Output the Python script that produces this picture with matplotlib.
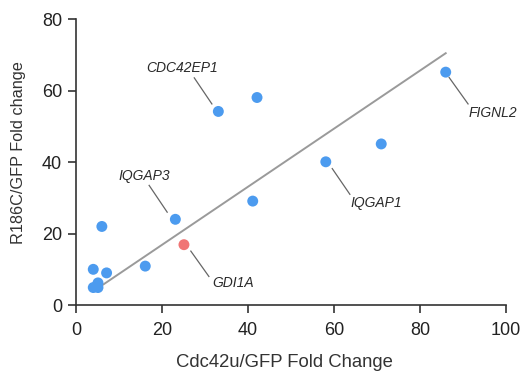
import matplotlib
matplotlib.use("Agg")
import matplotlib.pyplot as plt

plt.rcParams['font.family'] = ['Liberation Sans', 'DejaVu Sans']

# data
x_blue = [86.0, 42.1, 33.1, 71.0, 58.1, 41.1, 23.1, 6.0, 16.1, 4.0, 7.1, 5.1, 4.0, 5.1]
y_blue = [65.2, 58.1, 54.2, 45.1, 40.1, 29.1, 24.0, 22.0, 10.9, 10.0, 9.0, 6.2, 4.9, 4.9]
x_red = [25.1]
y_red = [16.9]
fit_x = [4.3, 86.0]
fit_y = [4.1, 70.5]

labels = ["CDC42EP1", "FIGNL2", "IQGAP1", "IQGAP3", "GDI1A"]
label_pos = [(24.6, 66.4), (96.9, 53.9), (69.8, 28.6), (15.8, 36.1), (36.5, 6.3)]
leader_start = [(27.5, 63.6), (86.8, 63.7), (59.6, 38.2), (17.0, 33.5), (26.7, 15.1)]
leader_end = [(31.6, 56.3), (91.2, 56.3), (63.7, 31.0), (21.2, 26.0), (30.9, 8.0)]

fig = plt.figure(figsize=(5.21, 3.78), dpi=100)
ax = fig.add_axes([0.146, 0.193, 0.825, 0.756])

ax.plot(fit_x, fit_y, color='#9a9a9a', lw=1.4, zorder=1)
ax.scatter(x_blue, y_blue, s=62, color='#4C9BEF', edgecolors='none', zorder=3)
ax.scatter(x_red, y_red, s=62, color='#F07575', edgecolors='none', zorder=3)

for lab, (tx, ty), (sx, sy), (ex, ey) in zip(labels, label_pos, leader_start, leader_end):
    ax.plot([sx, ex], [sy, ey], color='#666666', lw=0.9, zorder=2)
    ax.text(tx, ty, lab, ha='center', va='center', style='italic',
            fontsize=10, color='#2a2a2a')

ax.set_xlim(0, 100)
ax.set_ylim(0, 80)
ax.set_xticks([0, 20, 40, 60, 80, 100])
ax.set_yticks([0, 20, 40, 60, 80])
ax.spines['top'].set_visible(False)
ax.spines['right'].set_visible(False)
for s in ['left', 'bottom']:
    ax.spines[s].set_linewidth(1.2)
    ax.spines[s].set_color('#333333')
ax.tick_params(axis='both', length=5.5, width=1.2, color='#333333', labelsize=13,
               labelcolor='#222222')
ax.tick_params(axis='x', pad=6.5)
ax.tick_params(axis='y', pad=4.5)
ax.set_xlabel('Cdc42u/GFP Fold Change', fontsize=13.3, color='#333333')
ax.set_ylabel('R186C/GFP Fold change', fontsize=11.7, color='#333333')
ax.xaxis.set_label_coords(0.484, -0.2, transform=ax.transAxes)
ax.yaxis.set_label_coords(-0.135, 0.533, transform=ax.transAxes)
ax.xaxis.label.set_va('center')
ax.yaxis.label.set_va('center')
ax.yaxis.label.set_ha('center')

fig.savefig('out.png', dpi=100)
